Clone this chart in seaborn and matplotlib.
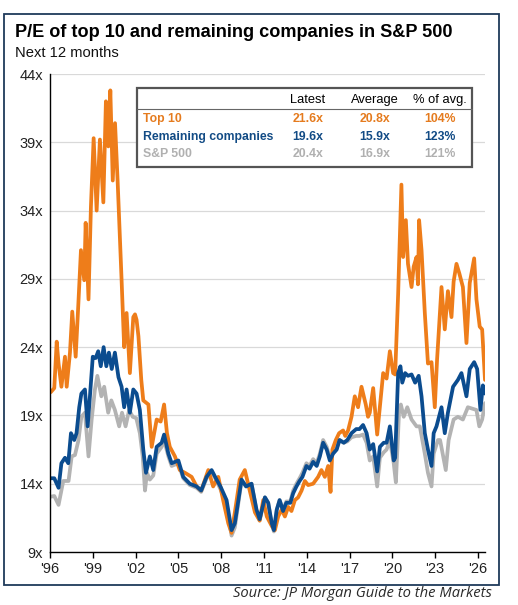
import matplotlib
matplotlib.use("Agg")
import matplotlib.pyplot as plt
import seaborn as sns
import pandas as pd
from matplotlib.patches import Rectangle
from matplotlib.lines import Line2D

# forward P/E readings (decimal year, multiple)
top10_dates = [1996.05, 1996.3, 1996.47, 1996.6, 1996.8, 1997.05, 1997.17, 1997.4, 1997.56, 1997.8,
               1997.98, 1998.17, 1998.4, 1998.5, 1998.7, 1998.87, 1999.06, 1999.27, 1999.5, 1999.74,
               1999.92, 2000.09, 2000.23, 2000.4, 2000.56, 2000.74, 2001.02, 2001.2, 2001.37, 2001.6,
               2001.84, 2001.96, 2002.07, 2002.2, 2002.4, 2002.54, 2002.9, 2003.13, 2003.48, 2003.76,
               2004.0, 2004.2, 2004.4, 2004.76, 2005.1, 2005.46, 2005.93, 2006.28, 2006.6, 2007.1,
               2007.44, 2007.8, 2008.14, 2008.5, 2008.73, 2008.96, 2009.3, 2009.66, 2010.0, 2010.37,
               2010.7, 2010.95, 2011.2, 2011.55, 2011.77, 2012.0, 2012.24, 2012.47, 2012.7, 2012.93,
               2013.17, 2013.4, 2013.64, 2013.87, 2014.1, 2014.45, 2014.8, 2015.03, 2015.27, 2015.5,
               2015.67, 2015.8, 2016.04, 2016.27, 2016.55, 2016.7, 2016.9, 2017.14, 2017.37, 2017.6,
               2017.84, 2018.14, 2018.3, 2018.42, 2018.66, 2018.94, 2019.13, 2019.36, 2019.6, 2019.83,
               2020.06, 2020.2, 2020.41, 2020.64, 2020.76, 2020.95, 2021.1, 2021.35, 2021.5, 2021.7,
               2021.8, 2021.88, 2022.05, 2022.28, 2022.5, 2022.75, 2022.98, 2023.14, 2023.45, 2023.68,
               2023.9, 2024.15, 2024.3, 2024.5, 2024.7, 2024.95, 2025.2, 2025.43, 2025.74, 2025.9,
               2026.13, 2026.3, 2026.5]
top10_pe = [20.7, 21.0, 24.4, 22.8, 21.1, 23.3, 21.1, 23.6, 26.6, 23.3,
            27.0, 31.1, 28.9, 33.1, 27.5, 34.3, 39.3, 34.0, 39.2, 34.6,
            42.0, 38.7, 42.8, 36.2, 40.4, 36.2, 28.9, 24.0, 26.5, 22.1,
            26.2, 26.4, 26.0, 24.8, 21.6, 20.1, 19.8, 16.7, 18.7, 18.55,
            19.8, 17.7, 16.7, 16.0, 15.0, 14.8, 14.5, 13.8, 13.5, 15.0,
            13.8, 14.5, 12.8, 11.1, 10.4, 11.9, 14.3, 15.0, 13.5, 11.9,
            11.3, 12.8, 11.6, 10.9, 10.6, 11.6, 12.1, 11.6, 12.3, 12.0,
            12.8, 13.0, 13.5, 14.2, 13.9, 14.0, 14.5, 15.0, 14.5, 15.3,
            13.4, 16.5, 17.2, 17.7, 17.9, 17.5, 17.9, 18.9, 20.4, 19.6,
            21.1, 19.8, 18.9, 19.2, 21.0, 17.6, 19.6, 22.1, 21.7, 23.7,
            22.1, 22.0, 27.9, 35.9, 30.6, 33.3, 30.1, 28.4, 29.9, 30.6,
            28.6, 33.3, 31.1, 26.5, 22.8, 22.9, 19.6, 23.1, 28.4, 25.3,
            28.1, 26.2, 28.8, 30.1, 29.4, 28.4, 24.3, 28.7, 30.5, 27.5,
            25.5, 25.3, 21.6]

rest_dates = [1996.05, 1996.3, 1996.6, 1996.8, 1997.05, 1997.28, 1997.47, 1997.7, 1997.86, 1998.05,
              1998.2, 1998.45, 1998.64, 1998.8, 1999.0, 1999.2, 1999.38, 1999.56, 1999.76, 1999.95,
              2000.13, 2000.33, 2000.55, 2000.8, 2001.02, 2001.2, 2001.37, 2001.6, 2001.84, 2002.07,
              2002.3, 2002.54, 2002.73, 2003.0, 2003.24, 2003.48, 2003.83, 2004.0, 2004.3, 2004.53,
              2005.0, 2005.34, 2005.8, 2006.28, 2006.6, 2006.98, 2007.33, 2007.68, 2007.95, 2008.38,
              2008.73, 2008.96, 2009.43, 2009.75, 2010.13, 2010.48, 2010.7, 2011.07, 2011.3, 2011.55,
              2011.7, 2011.9, 2012.1, 2012.34, 2012.57, 2012.85, 2013.05, 2013.28, 2013.5, 2013.7,
              2013.98, 2014.2, 2014.45, 2014.7, 2014.92, 2015.15, 2015.4, 2015.62, 2015.85, 2016.1,
              2016.3, 2016.6, 2016.85, 2017.14, 2017.47, 2017.7, 2017.95, 2018.2, 2018.42, 2018.66,
              2018.94, 2019.13, 2019.4, 2019.6, 2019.83, 2020.1, 2020.2, 2020.41, 2020.57, 2020.7,
              2020.9, 2021.1, 2021.35, 2021.6, 2021.85, 2022.05, 2022.28, 2022.5, 2022.75, 2022.9,
              2023.1, 2023.45, 2023.68, 2023.9, 2024.26, 2024.6, 2024.85, 2025.2, 2025.43, 2025.74,
              2025.95, 2026.18, 2026.35, 2026.5]
rest_pe = [14.4, 14.4, 13.7, 15.5, 15.9, 15.5, 17.7, 17.2, 17.7, 19.6,
           20.6, 20.9, 18.2, 20.4, 23.3, 23.2, 23.7, 22.6, 24.0, 22.6,
           23.6, 22.4, 23.6, 21.8, 21.1, 19.6, 20.9, 19.2, 20.9, 20.6,
           19.4, 16.5, 14.8, 16.0, 15.0, 16.7, 17.0, 17.6, 16.2, 15.5,
           15.7, 14.5, 14.0, 13.8, 13.5, 14.5, 15.0, 14.3, 13.8, 12.8,
           10.6, 11.1, 14.3, 13.8, 14.0, 12.1, 11.4, 13.0, 12.6, 11.1,
           10.6, 12.1, 12.8, 12.0, 12.6, 12.6, 13.3, 13.8, 14.2, 14.5,
           15.3, 15.1, 15.6, 15.3, 16.0, 17.0, 16.5, 15.7, 16.2, 16.5,
           17.2, 17.0, 17.2, 17.7, 18.0, 18.0, 18.3, 17.7, 16.5, 16.9,
           14.9, 16.7, 17.0, 17.0, 18.2, 15.7, 15.9, 22.1, 22.6, 21.4,
           22.1, 21.9, 22.0, 21.4, 21.9, 20.4, 17.7, 16.5, 15.3, 17.7,
           18.2, 19.6, 17.7, 19.2, 21.1, 21.6, 22.1, 20.4, 22.4, 22.9,
           22.4, 19.4, 21.2, 20.6]

spx_dates = [1996.05, 1996.3, 1996.6, 1996.93, 1997.3, 1997.52, 1997.75, 1998.0, 1998.2, 1998.45,
             1998.7, 1998.92, 1999.15, 1999.32, 1999.6, 1999.8, 2000.08, 2000.3, 2000.55, 2000.85,
             2001.05, 2001.3, 2001.55, 2001.8, 2002.05, 2002.3, 2002.5, 2002.66, 2002.8, 2003.0,
             2003.24, 2003.48, 2003.83, 2004.0, 2004.3, 2004.53, 2005.0, 2005.34, 2005.8, 2006.28,
             2006.6, 2006.98, 2007.33, 2007.68, 2007.95, 2008.38, 2008.73, 2008.96, 2009.43, 2009.75,
             2010.13, 2010.48, 2010.7, 2011.07, 2011.3, 2011.55, 2011.7, 2011.9, 2012.1, 2012.34,
             2012.57, 2012.85, 2013.05, 2013.28, 2013.5, 2013.7, 2013.98, 2014.2, 2014.45, 2014.7,
             2014.92, 2015.15, 2015.4, 2015.62, 2015.85, 2016.1, 2016.3, 2016.6, 2016.85, 2017.14,
             2017.47, 2017.7, 2017.95, 2018.2, 2018.42, 2018.66, 2018.94, 2019.13, 2019.4, 2019.6,
             2019.83, 2020.1, 2020.25, 2020.48, 2020.6, 2020.8, 2021.05, 2021.35, 2021.7, 2021.93,
             2022.28, 2022.5, 2022.75, 2022.9, 2023.2, 2023.35, 2023.75, 2023.95, 2024.3, 2024.6,
             2024.95, 2025.3, 2025.9, 2026.1, 2026.3, 2026.5]
spx_pe = [13.05, 13.1, 12.45, 14.2, 14.2, 16.0, 16.1, 17.2, 18.9, 19.2,
          16.0, 18.7, 20.9, 21.9, 20.4, 21.1, 19.2, 20.1, 19.4, 18.2,
          19.2, 18.2, 19.4, 18.9, 18.8, 17.7, 16.0, 13.5, 14.8, 14.3,
          14.6, 16.2, 16.7, 17.2, 16.0, 15.3, 15.5, 14.4, 13.9, 13.7,
          13.4, 14.4, 14.9, 14.2, 13.6, 12.5, 10.2, 10.8, 14.2, 13.8,
          14.0, 12.0, 11.3, 13.0, 12.6, 11.0, 10.5, 12.1, 12.8, 12.1,
          12.7, 12.7, 13.5, 14.0, 14.4, 14.8, 15.5, 15.3, 15.8, 15.5,
          16.2, 17.2, 16.7, 15.9, 16.3, 16.6, 17.2, 17.0, 17.1, 17.4,
          17.5, 17.5, 17.6, 17.0, 15.7, 16.0, 13.8, 15.9, 16.3, 16.5,
          17.2, 15.5, 14.1, 19.4, 19.8, 18.9, 19.6, 18.7, 18.2, 18.2,
          16.2, 14.8, 13.8, 16.2, 17.2, 17.2, 15.0, 17.2, 18.7, 18.9,
          18.7, 19.6, 19.4, 18.2, 18.7, 19.9]

series_names = ["S&P 500", "Top 10", "Remaining companies"]
series_colors = ["#b3b3b3", "#ee7d1a", "#0b4c8f"]
text_colors = ["#b0b0b0", "#e57b1e", "#124b85"]

table_cols = ["Latest", "Average", "% of avg."]
table_rows = ["Top 10", "Remaining companies", "S&P 500"]
latest = ["21.6x", "19.6x", "20.4x"]
average = ["20.8x", "15.9x", "16.9x"]
pct_avg = ["104%", "123%", "121%"]

year_ticks = list(range(1996, 2027, 3))
pe_ticks = list(range(9, 45, 5))

W, H = 518, 605


def fx(x):
    return x / W


def fy(y):
    return 1 - y / H


def main():
    sns.set_style("white")
    plt.rcParams["font.family"] = ["Liberation Sans", "DejaVu Sans"]

    fig = plt.figure(figsize=(W / 100, H / 100), dpi=100)
    ax = fig.add_axes([fx(50), fy(552), fx(435), 478 / H])

    df = pd.concat([
        pd.DataFrame({"date": spx_dates, "pe": spx_pe, "series": "S&P 500"}),
        pd.DataFrame({"date": top10_dates, "pe": top10_pe, "series": "Top 10"}),
        pd.DataFrame({"date": rest_dates, "pe": rest_pe, "series": "Remaining companies"}),
    ])
    sns.lineplot(data=df, x="date", y="pe", hue="series", hue_order=series_names,
                 palette=series_colors, linewidth=2.7, estimator=None, sort=True,
                 legend=False, ax=ax)

    ax.set_xlim(1996, 2026.5)
    ax.set_ylim(9, 44)
    ax.set_xticks(year_ticks)
    ax.set_xticklabels([f"'{y % 100:02d}" for y in year_ticks])
    ax.set_yticks(pe_ticks)
    ax.set_yticklabels([f"{v}x" for v in pe_ticks])
    ax.set_xlabel("")
    ax.set_ylabel("")
    ax.yaxis.grid(True, color="#d9d9d9", linewidth=0.9)
    ax.xaxis.grid(False)
    ax.set_axisbelow(True)
    for s in ["top", "right"]:
        ax.spines[s].set_visible(False)
    for s in ["left", "bottom"]:
        ax.spines[s].set_color("black")
        ax.spines[s].set_linewidth(1.0)
    ax.tick_params(axis="x", length=4, width=1, color="black", labelsize=10.5,
                   labelcolor="#222222", pad=3, direction="out", bottom=True)
    ax.tick_params(axis="y", length=0, labelsize=10.5, labelcolor="#222222", pad=5)

    # outer frame and headings
    fig.patches.append(Rectangle((fx(4), fy(585)), fx(495), 571 / H, transform=fig.transFigure,
                                 fill=False, edgecolor="#1f3a5a", linewidth=1.3, zorder=0))
    fig.text(fx(15), fy(37), "P/E of top 10 and remaining companies in S&P 500",
             fontsize=13.1, fontweight="bold", color="black", va="baseline")
    fig.text(fx(15), fy(57), "Next 12 months", fontsize=10.6, color="#111111", va="baseline")
    fig.text(fx(492), fy(597), "Source: JP Morgan Guide to the Markets", fontsize=10.6,
             style="italic", family=["Open Sans", "DejaVu Sans"], color="#2a2a2a",
             ha="right", va="baseline")

    # summary table
    fig.patches.append(Rectangle((fx(137), fy(167)), fx(335), 79 / H, transform=fig.transFigure,
                                 facecolor="white", edgecolor="#555555", linewidth=1.6, zorder=5))
    fig.lines.append(Line2D([fx(137), fx(472)], [fy(109), fy(109)], transform=fig.transFigure,
                            color="#666666", linewidth=0.8, zorder=6))
    col_x = [308, 375, 440]
    for cx, name in zip(col_x, table_cols):
        fig.text(fx(cx), fy(100), name, fontsize=9.3, color="black", ha="center", va="center",
                 zorder=7)
    row_colors = [text_colors[1], text_colors[2], text_colors[0]]
    for i, row in enumerate(table_rows):
        ry = [119, 137, 154][i]
        fig.text(fx(143), fy(ry), row, fontsize=8.8, fontweight="bold", color=row_colors[i],
                 ha="left", va="center", zorder=7)
        for cx, val in zip(col_x, [latest[i], average[i], pct_avg[i]]):
            fig.text(fx(cx), fy(ry), val, fontsize=8.8, fontweight="bold", color=row_colors[i],
                     ha="center", va="center", zorder=7)

    fig.savefig("out.png", dpi=100)


if __name__ == "__main__":
    main()
